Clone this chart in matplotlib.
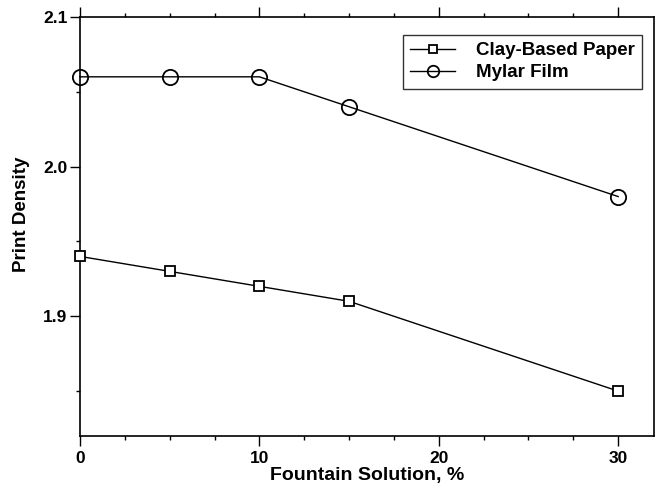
import matplotlib
matplotlib.use("Agg")
import matplotlib.pyplot as plt
from matplotlib.ticker import MultipleLocator

plt.rcParams["font.family"] = ["Liberation Sans", "DejaVu Sans"]
plt.rcParams["font.weight"] = "bold"

fountain = [0, 5, 10, 15, 30]
clay_paper = [1.94, 1.93, 1.92, 1.91, 1.85]
mylar_film = [2.06, 2.06, 2.06, 2.04, 1.98]

fig = plt.figure(figsize=(6.56, 4.93), dpi=100)
ax = fig.add_axes([0.122, 0.1156, 0.875, 0.85])

ax.plot(fountain, clay_paper, color="black", linewidth=1.0, marker="s",
        markersize=7, markerfacecolor="white", markeredgewidth=1.3,
        label="Clay-Based Paper", clip_on=False, zorder=3)
ax.plot(fountain, mylar_film, color="black", linewidth=1.0, marker="o",
        markersize=11, markerfacecolor="none", markeredgewidth=1.3,
        label="Mylar Film", clip_on=False, zorder=3)

ax.set_xlim(0, 32)
ax.set_ylim(1.82, 2.1)
ax.xaxis.set_major_locator(MultipleLocator(10))
ax.xaxis.set_minor_locator(MultipleLocator(2.5))
ax.yaxis.set_major_locator(MultipleLocator(0.1))
ax.yaxis.set_minor_locator(MultipleLocator(0.05))
ax.tick_params(which="both", direction="out", top=True, right=False,
               width=1.0, labelsize=12.5)
ax.tick_params(which="major", length=7)
ax.tick_params(which="minor", length=3)
ax.tick_params(axis="y", which="major", pad=2)
for s in ax.spines.values():
    s.set_linewidth(1.2)

ax.set_xlabel("Fountain Solution, %", fontsize=14, fontweight="bold", labelpad=1)
ax.set_ylabel("Print Density", fontsize=13.5, fontweight="bold")
ax.yaxis.set_label_coords(-0.087, 0.53)

leg = ax.legend(loc="upper right", bbox_to_anchor=(0.996, 0.98), fontsize=13.5,
                frameon=True, fancybox=False, edgecolor="black",
                handlelength=2.4, handletextpad=1.1, borderpad=0.4,
                labelspacing=0.25, markerscale=0.75)
leg.get_frame().set_linewidth(1.0)

fig.savefig("out.png", dpi=100)
